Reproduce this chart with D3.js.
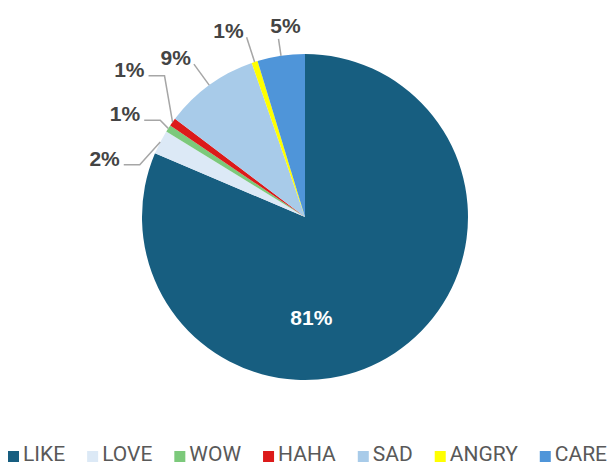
<!DOCTYPE html>
<html>
<head>
<meta charset="utf-8">
<script src="https://cdn.jsdelivr.net/npm/d3@7"></script>
<style>
  html, body { margin: 0; padding: 0; background: #fff; }
  svg { display: block; }
</style>
</head>
<body>
<svg id="chart" width="613" height="464"></svg>
<script>
// Reaction breakdown (share of all reactions, %)
const categories = ["LIKE", "LOVE", "WOW", "HAHA", "SAD", "ANGRY", "CARE"];
const shares = [81.4, 2.4, 0.7, 0.8, 9.4, 0.6, 4.7];
const colors = ["#175e80", "#dce9f6", "#7cc97b", "#dc1a1a", "#a8cbe9", "#ffff00", "#4f95d9"];

const W = 613, H = 464;
const cx = 305, cy = 217, R = 163;

const svg = d3.select("#chart");
const g = svg.append("g").attr("transform", `translate(${cx},${cy})`);

const data = categories.map((c, i) => ({ cat: c, value: shares[i], color: colors[i] }));
const total = d3.sum(shares);
const pct = v => d3.format(".0f")(v / total * 100) + "%";

const pie = d3.pie().sort(null).value(d => d.value);
const arcs = pie(data);
const arc = d3.arc().innerRadius(0).outerRadius(R);

g.selectAll("path.slice")
  .data(arcs)
  .join("path")
  .attr("class", "slice")
  .attr("d", arc)
  .attr("fill", d => d.data.color);

// polar helper: angle clockwise from 12 o'clock
const polar = (r, a) => [r * Math.sin(a), -r * Math.cos(a)];

const labelFont = "'Liberation Sans', Arial, sans-serif";
const labelSize = 21;
const lineColor = "#a6a6a6";
const labelColor = "#444444";

// Big slice: label inside
const big = arcs[0];
const inPos = polar(R * 0.62, Math.PI * 0.98);
g.append("text")
  .attr("x", inPos[0]).attr("y", inPos[1])
  .attr("text-anchor", "middle")
  .attr("dominant-baseline", "central")
  .attr("font-family", labelFont)
  .attr("font-weight", "bold")
  .attr("font-size", labelSize)
  .attr("fill", "#ffffff")
  .text(pct(big.data.value));

// Small slices: outside labels with leader lines
const outer = arcs.slice(1).map(d => {
  const a = (d.startAngle + d.endAngle) / 2;
  return { d, a, anchor: polar(R, a), side: Math.abs(Math.sin(a)) > Math.abs(Math.cos(a)) };
});

// side labels: stacked with a minimum vertical spacing
const sideLabels = outer.filter(o => o.side);
sideLabels.forEach(o => { o.y = polar(R + 20, o.a)[1]; });
sideLabels.sort((p, q) => p.y - q.y);
const gap = 44.5;
for (let it = 0; it < 200; it++) {
  for (let i = 1; i < sideLabels.length; i++) {
    const p = sideLabels[i - 1], q = sideLabels[i];
    const ov = gap - (q.y - p.y);
    if (ov > 0) { p.y -= ov / 2; q.y += ov / 2; }
  }
}
sideLabels.forEach(o => {
  o.bx = o.anchor[0] - 8 - 0.55 * Math.max(0, o.y - o.anchor[1]);
});

const lines = g.append("g");
const texts = g.append("g");

sideLabels.forEach(o => {
  const hx = o.bx - 16;
  lines.append("polyline")
    .attr("points", [o.anchor, [o.bx, o.y], [hx, o.y]].map(p => p.join(",")).join(" "))
    .attr("fill", "none")
    .attr("stroke", lineColor)
    .attr("stroke-width", 1.5);
  texts.append("text")
    .attr("x", hx - 4).attr("y", o.y + 1)
    .attr("text-anchor", "end")
    .attr("font-family", labelFont)
    .attr("font-weight", "bold")
    .attr("font-size", labelSize)
    .attr("fill", labelColor)
    .text(pct(o.d.data.value));
});

// top labels: radial leader, text above the end point
outer.filter(o => !o.side).forEach(o => {
  const centred = Math.abs(Math.sin(o.a)) < 0.2;
  const e = polar(R + (centred ? 17 : 26), o.a);
  lines.append("line")
    .attr("x1", o.anchor[0]).attr("y1", o.anchor[1])
    .attr("x2", e[0]).attr("y2", e[1])
    .attr("stroke", lineColor)
    .attr("stroke-width", 1.5);
  texts.append("text")
    .attr("x", centred ? e[0] + 7 : e[0] - 3)
    .attr("y", centred ? e[1] - 6 : e[1] + 1)
    .attr("text-anchor", centred ? "middle" : "end")
    .attr("font-family", labelFont)
    .attr("font-weight", "bold")
    .attr("font-size", labelSize)
    .attr("fill", labelColor)
    .text(pct(o.d.data.value));
});

// Legend along the bottom
const legend = svg.append("g");
let lx = 8;
data.forEach(d => {
  legend.append("rect")
    .attr("x", lx).attr("y", 451)
    .attr("width", 11).attr("height", 11)
    .attr("fill", d.color);
  const t = legend.append("text")
    .attr("x", lx + 15).attr("y", 461)
    .attr("font-family", "Roboto, sans-serif")
    .attr("font-size", 21)
    .attr("fill", "#595959")
    .text(d.cat);
  lx += 15 + t.node().getComputedTextLength() + 22;
});
</script>
</body>
</html>
